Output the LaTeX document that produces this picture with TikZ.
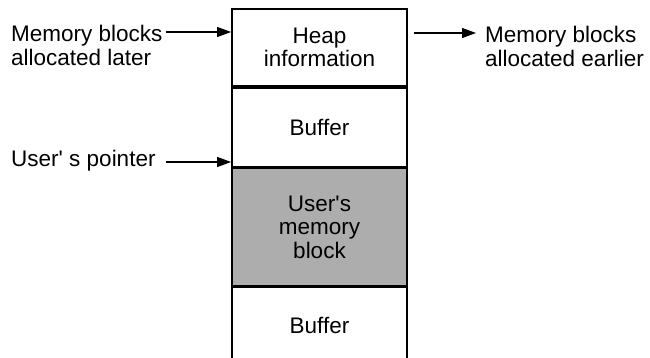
\documentclass[tikz,border=0pt]{standalone}
\usepackage{fontspec}
\setmainfont{Liberation Sans}
\usetikzlibrary{arrows.meta}
\begin{document}
\begin{tikzpicture}[x=1pt,y=-1pt,
  txt/.style={font=\fontsize{22.5}{23.5}\selectfont, inner sep=0pt},
  cell/.style={draw, line width=1.8pt, minimum width=175pt, inner sep=0pt, align=center,
    font=\fontsize{22.5}{23.5}\selectfont, anchor=north},
  arr/.style={line width=1.2pt, -{Triangle[length=14pt,width=10pt]}}]
\useasboundingbox (0,0) rectangle (650,358);
% memory column
\node[cell, minimum height=77pt] (heap) at (319.5,8) {Heap\\information};
\node[cell, minimum height=79pt] (buf1) at (heap.south) {Buffer};
\node[cell, minimum height=117pt, fill=black!32] (user) at (buf1.south) {User\textquotesingle s\\memory\\block};
\node[cell, minimum height=84pt, text depth=8pt] (buf2) at (user.south) {Buffer};
% labels
\node[txt, align=left, anchor=north west] (later) at (11,25) {Memory blocks\\allocated later};
\node[txt, align=left, anchor=north west] (earlier) at (485,26) {Memory blocks\\allocated earlier};
\node[txt, anchor=west] (ptr) at (11,161) {User\textquotesingle{} s pointer};
% arrows
\coordinate (la) at (166,32);
\coordinate (ra) at (414,33);
\coordinate (rb) at (476,33);
\coordinate (pa) at (166,162);
\draw[arr] (la) -- (la -| heap.west);
\draw[arr] (ra) -- (rb);
\draw[arr] (pa) -- (pa -| user.west);
\end{tikzpicture}
\end{document}
